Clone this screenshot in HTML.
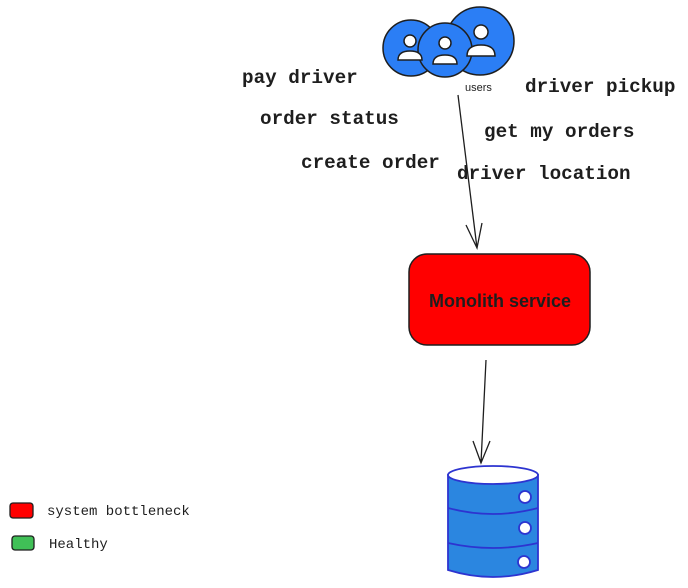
<!DOCTYPE html>
<html><head><style>body{margin:0;background:#fff}svg{display:block}</style></head><body>
<svg width="688" height="588" viewBox="0 0 688 588" xmlns="http://www.w3.org/2000/svg">
<g stroke="#1e1e1e" stroke-width="1.5" fill="#2b7ef5">
<circle cx="411" cy="48" r="28"/>
<circle cx="480" cy="41" r="34"/>
<circle cx="445" cy="50" r="27"/>
</g>
<g fill="#fff" stroke="#1e1e1e" stroke-width="1.5">
<circle cx="410" cy="41" r="6"/><path d="M398 60 q0-9 12-9 q12 0 12 9 z"/>
<circle cx="481" cy="32" r="7"/><path d="M467 56 q0-11 14-11 q14 0 14 11 z"/>
<circle cx="445" cy="43" r="6"/><path d="M433 64 q0-9 12-9 q12 0 12 9 z"/>
</g>
<text x="465" y="91" font-family="Liberation Sans,sans-serif" font-size="11" fill="#1e1e1e">users</text>
<g font-family="Liberation Mono,monospace" font-weight="bold" font-size="19.3" fill="#1e1e1e">
<text x="242" y="83">pay driver</text>
<text x="260" y="124">order status</text>
<text x="301" y="168">create order</text>
<text x="525" y="92">driver pickup</text>
<text x="484" y="137">get my orders</text>
<text x="457" y="179">driver location</text>
</g>
<g stroke="#1e1e1e" stroke-width="1.3" fill="none">
<path d="M458 95 L477 248 M466 225 L477 248 L482 223"/>
<path d="M486 360 L481 463 M473 441 L481 463 L490 441"/>
</g>
<rect x="409" y="254" width="181" height="91" rx="18" fill="#ff0000" stroke="#1e1e1e" stroke-width="1.5"/>
<text x="500" y="307" text-anchor="middle" font-family="Liberation Sans,sans-serif" font-size="18" font-weight="bold" fill="#1e1e1e">Monolith service</text>
<g stroke="#2d34d0" stroke-width="1.8">
<path d="M448 475 L448 570 Q493 584 538 570 L538 475 Z" fill="#2b86e0"/>
<ellipse cx="493" cy="475" rx="45" ry="9" fill="#fff"/>
<path d="M448 508 Q493 520 538 508 M448 543 Q493 553 538 543" fill="none"/>
<g fill="#fff"><circle cx="525" cy="497" r="6"/><circle cx="525" cy="528" r="6"/><circle cx="524" cy="562" r="6"/></g>
</g>
<rect x="10" y="503" width="23" height="15" rx="3" fill="#ff0000" stroke="#1e1e1e" stroke-width="1.3"/>
<rect x="12" y="536" width="22" height="14" rx="3" fill="#40c057" stroke="#1e1e1e" stroke-width="1.3"/>
<g font-family="Liberation Mono,monospace" font-size="14" fill="#1e1e1e">
<text x="47" y="515">system bottleneck</text>
<text x="49" y="548">Healthy</text>
</g>
</svg>
</body></html>
